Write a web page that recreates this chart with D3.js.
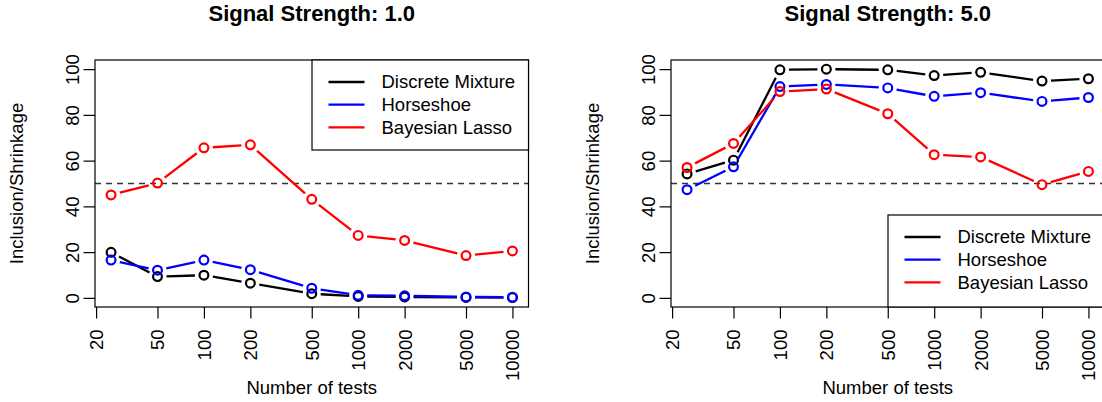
<!DOCTYPE html>
<meta charset="utf-8">
<script src="https://d3js.org/d3.v7.min.js"></script>
<style>
body { margin: 0; background: #fff; }
svg { font-family: "Liberation Sans", Arial, sans-serif; }
.tick text { font-size: 18.5px; fill: #000; }
</style>
<body>
<script>

let width = 1102,
    height = 402;

// number of tests on the x axis
let tests = [25, 50, 100, 200, 500, 1000, 2000, 5000, 10000];
let xTicks = [20, 50, 100, 200, 500, 1000, 2000, 5000, 10000];
let yTicks = [0, 20, 40, 60, 80, 100];

let methods = ['Discrete Mixture', 'Horseshoe', 'Bayesian Lasso'];
let color = ['#000000', '#0000ff', '#ff0000'];

// signal strength 1.0
let mixture1 = [19.9, 9.3, 9.9, 6.4, 1.8, 0.6, 0.4, 0.2, 0.1];
let horseshoe1 = [16.5, 12.1, 16.5, 12.3, 4.2, 1.1, 0.9, 0.4, 0.3];
let lasso1 = [45.0, 50.2, 65.6, 66.9, 43.1, 27.3, 25.1, 18.5, 20.5];

// signal strength 5.0
let mixture5 = [54.2, 60.2, 99.7, 100, 99.7, 97.2, 98.6, 94.8, 95.8];
let horseshoe5 = [47.3, 57.3, 92.4, 93.3, 91.8, 88.1, 89.7, 85.9, 87.6];
let lasso5 = [57.0, 67.5, 90.2, 91.3, 80.5, 62.6, 61.6, 49.5, 55.3];

let panels = [
  {title: 'Signal Strength: 1.0', series: [mixture1, horseshoe1, lasso1], legend: 'top', dx: 0},
  {title: 'Signal Strength: 5.0', series: [mixture5, horseshoe5, lasso5], legend: 'bottom', dx: 576}
];

let svg = d3.select("body").append("svg")
    .attr("width", width)
    .attr("height", height);

svg.append("rect").attr("width", width).attr("height", height).attr("fill", "#fff");

let box = {left: 95, right: 528.5, top: 60, bottom: 307};

// R style 4% padding on the log axis
let pad = Math.pow(10, 0.04 * Math.log10(tests[tests.length - 1] / tests[0]));

panels.forEach(function(p) {
  let g = svg.append("g").attr("transform", "translate(" + p.dx + ",0)");

  let x = d3.scaleLog()
      .domain([tests[0] / pad, tests[tests.length - 1] * pad])
      .range([box.left, box.right]);
  let y = d3.scaleLinear()
      .domain([-4, 104])
      .range([box.bottom, box.top]);

  // title
  g.append("text")
      .attr("x", (box.left + box.right) / 2)
      .attr("y", 21)
      .attr("text-anchor", "middle")
      .style("font-size", "22px")
      .style("font-weight", "bold")
      .text(p.title);

  // axes
  let xAxis = g.append("g")
      .attr("transform", "translate(0," + box.bottom + ")")
      .call(d3.axisBottom(x).tickValues(xTicks).tickFormat(d3.format("d")).tickSize(11.5));
  xAxis.select(".domain").remove();
  xAxis.selectAll(".tick line").attr("stroke", "#000").attr("stroke-width", 1.2);
  xAxis.selectAll(".tick text")
      .attr("transform", "rotate(-90)")
      .attr("x", -22.5)
      .attr("y", 0)
      .attr("dy", "0.35em")
      .attr("text-anchor", "end");

  let yAxis = g.append("g")
      .attr("transform", "translate(" + box.left + ",0)")
      .call(d3.axisLeft(y).tickValues(yTicks).tickSize(11.5));
  yAxis.select(".domain").remove();
  yAxis.selectAll(".tick line").attr("stroke", "#000").attr("stroke-width", 1.2);
  yAxis.selectAll(".tick text")
      .attr("transform", "rotate(-90)")
      .attr("x", 0)
      .attr("y", -16.5)
      .attr("dy", 0)
      .attr("text-anchor", "middle");

  // axis titles
  g.append("text")
      .attr("x", (box.left + box.right) / 2)
      .attr("y", 394)
      .attr("text-anchor", "middle")
      .style("font-size", "18.5px")
      .text("Number of tests");

  g.append("text")
      .attr("transform", "translate(23," + (box.top + box.bottom) / 2 + ") rotate(-90)")
      .attr("text-anchor", "middle")
      .style("font-size", "18.5px")
      .text("Inclusion/Shrinkage");

  // reference line at 50
  g.append("line")
      .attr("x1", box.left).attr("x2", box.right)
      .attr("y1", y(50)).attr("y2", y(50))
      .attr("stroke", "#333")
      .attr("stroke-width", 1.4)
      .attr("stroke-dasharray", "6,5");

  // series, drawn like R type = "b": segments stop short of the points
  let gap = 9;
  p.series.forEach(function(vals, k) {
    let pts = vals.map(function(v, j) { return [x(tests[j]), y(v)]; });
    for (let j = 0; j < pts.length - 1; j++) {
      let a = pts[j], b = pts[j + 1];
      let dx = b[0] - a[0], dy = b[1] - a[1];
      let len = Math.sqrt(dx * dx + dy * dy);
      if (len <= 2 * gap) continue;
      let ux = dx / len, uy = dy / len;
      g.append("line")
          .attr("x1", a[0] + ux * gap).attr("y1", a[1] + uy * gap)
          .attr("x2", b[0] - ux * gap).attr("y2", b[1] - uy * gap)
          .attr("stroke", color[k])
          .attr("stroke-width", 2.3);
    }
    g.selectAll(".pt" + k)
        .data(vals)
        .enter().append("circle")
        .attr("cx", function(d, j) { return x(tests[j]); })
        .attr("cy", function(d) { return y(d); })
        .attr("r", 4.4)
        .attr("fill", "none")
        .attr("stroke", color[k])
        .attr("stroke-width", 2.2);
  });

  // plot box
  g.append("rect")
      .attr("x", box.left).attr("y", box.top)
      .attr("width", box.right - box.left).attr("height", box.bottom - box.top)
      .attr("fill", "none")
      .attr("stroke", "#000")
      .attr("stroke-width", 1.2);

  // legend
  let lw = 216.5, lh = p.legend === 'top' ? 90 : 92;
  let lx = box.right - lw;
  let ly = p.legend === 'top' ? box.top : box.bottom - lh;
  let leg = g.append("g").attr("transform", "translate(" + lx + "," + ly + ")");
  leg.append("rect")
      .attr("width", lw).attr("height", lh)
      .attr("fill", "#fff")
      .attr("stroke", "#000")
      .attr("stroke-width", 1.2);
  methods.forEach(function(m, k) {
    let cy = 22 + k * 22.7;
    leg.append("line")
        .attr("x1", 16.5).attr("x2", 52.5)
        .attr("y1", cy).attr("y2", cy)
        .attr("stroke", color[k])
        .attr("stroke-width", 2.3);
    leg.append("text")
        .attr("x", 69.5)
        .attr("y", cy)
        .attr("dy", "0.35em")
        .style("font-size", "18.5px")
        .text(m);
  });
});

</script>
